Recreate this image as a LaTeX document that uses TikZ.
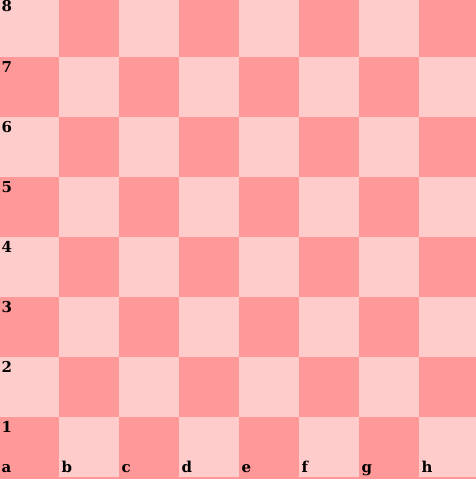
\documentclass[tikz,border=0pt]{standalone}
\usepackage{fontspec}
\setmainfont{DejaVu Serif}
\definecolor{lightsq}{HTML}{FFCCCC}
\definecolor{darksq}{HTML}{FF9999}
\tikzset{
  lbl/.style={anchor=base west, inner sep=0pt, font=\fontsize{15}{15}\selectfont\bfseries, text=black},
  sq/.style={inner sep=0pt, outer sep=0pt, minimum width=60pt, minimum height=60pt, draw=none, anchor=north west}
}
\begin{document}
\begin{tikzpicture}[x=1pt,y=-1pt]
\useasboundingbox (0,0) rectangle (476,479);
\begin{scope}
\clip (0,0) rectangle (476,479);
\fill[darksq] (0,0) rectangle (476,479);
\foreach \c in {0,...,7}{
  \foreach \r in {0,...,7}{
    \pgfmathtruncatemacro{\sqpar}{mod(\c+\r,2)}
    \ifnum\sqpar=0
      \node[sq, fill=lightsq] (s\c\r) at (-1+60*\c, -3+60*\r) {};
    \else
      \node[sq, fill=darksq] (s\c\r) at (-1+60*\c, -3+60*\r) {};
    \fi
  }
}
\end{scope}
\foreach \r/\t in {0/8,1/7,2/6,3/5,4/4,5/3,6/2,7/1}{
  \node[lbl] (rank\t) at (1.5, 12+60*\r) {\t};
}
\foreach \c/\t in {0/a,1/b,2/c,3/d,4/e,5/f,6/g,7/h}{
  \node[lbl] (file\t) at (1.5+60*\c, 472) {\t};
}
\end{tikzpicture}
\end{document}
